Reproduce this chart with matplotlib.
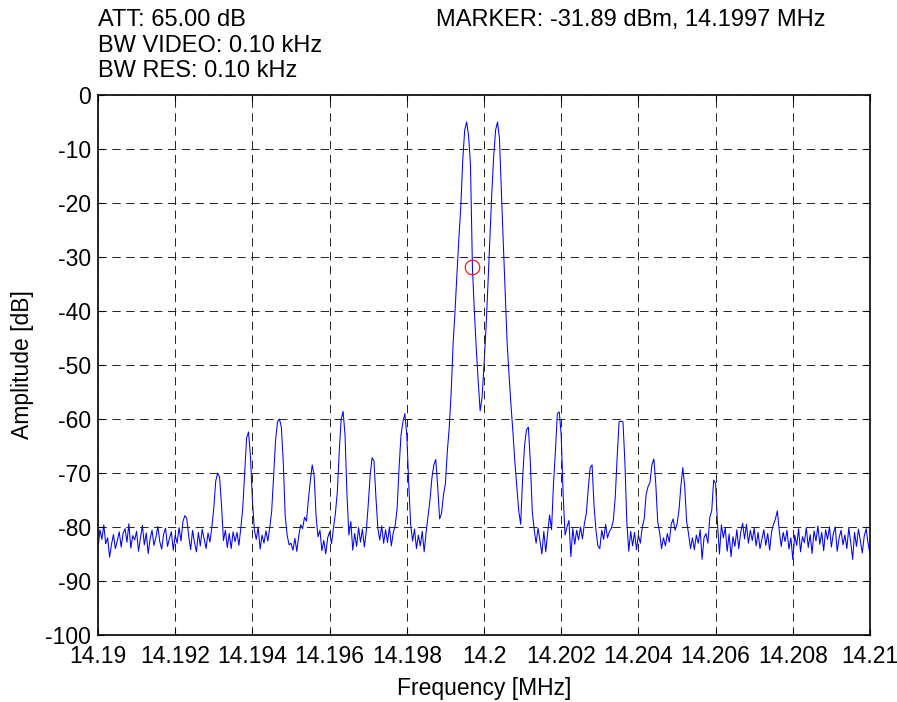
"""Spectrum analyzer sweep around 14.2 MHz with marker readout."""

import numpy as np
import matplotlib

matplotlib.use("Agg")
import matplotlib.pyplot as plt

plt.rcParams["font.family"] = ["Liberation Sans", "DejaVu Sans"]
plt.rcParams["lines.scale_dashes"] = False

# sweep settings
f_start = 14.19      # MHz
f_step = 0.00005     # MHz per sample

# measured amplitude, dB (401 samples, 20 per row = 1 kHz per row)
trace_db = [
    -84.0, -80.5, -82.3, -79.6, -83.1, -82.0, -85.6, -83.2, -81.4, -84.0,
    -82.5, -80.9, -83.7, -81.2, -80.3, -82.8, -79.4, -83.9, -81.6, -82.4,
    -80.8, -84.5, -82.0, -79.7, -83.3, -81.1, -84.9, -82.2, -80.6, -83.4,
    -81.9, -79.9, -82.7, -84.1, -81.3, -80.2, -83.6, -82.1, -80.9, -84.3,
    -81.5, -83.0, -80.1, -82.6, -79.0, -77.9, -78.4, -81.7, -84.2, -80.6,
    -82.9, -84.6, -81.0, -83.5, -80.4, -82.2, -84.0, -81.1, -82.8, -80.0,
    -76.5, -71.5, -70.0, -70.8, -76.0, -82.5, -80.6, -83.8, -81.2, -84.0,
    -80.9, -82.7, -81.0, -83.4, -80.2, -76.5, -70.0, -63.5, -62.4, -67.0,
    -75.0, -80.5, -82.3, -80.0, -84.1, -81.5, -83.0, -80.7, -82.6, -80.1,
    -77.0, -70.5, -64.0, -60.5, -60.0, -61.5, -68.0, -78.0, -81.5, -83.3,
    -83.0, -84.3, -82.1, -84.5, -81.7, -79.6, -80.3, -78.2, -78.9, -75.0,
    -71.5, -68.5, -70.5, -78.0, -81.8, -80.6, -84.4, -82.5, -85.0, -82.0,
    -80.9, -83.1, -80.2, -77.5, -73.5, -66.0, -60.0, -58.6, -63.0, -74.0,
    -81.5, -79.0, -84.3, -81.2, -83.6, -80.1, -82.8, -80.4, -83.7, -80.8,
    -76.0, -70.5, -67.2, -67.8, -74.5, -80.2, -82.4, -79.8, -83.0, -80.5,
    -82.9, -80.0, -83.5, -81.0, -79.7, -76.5, -69.0, -63.0, -60.5, -59.0,
    -63.0, -72.0, -79.5, -82.6, -80.4, -84.0, -81.5, -83.5, -80.8, -84.6,
    -81.0, -78.0, -75.0, -71.0, -68.5, -67.5, -72.5, -78.5, -77.5, -74.0,
    -72.0, -66.0, -61.5, -55.0, -46.0, -40.0, -33.0, -26.5, -20.5, -12.0,
    -6.5, -5.0, -7.5, -13.0, -31.89, -40.0, -47.0, -53.0, -58.5, -56.0,
    -50.0, -43.5, -35.5, -27.0, -18.5, -11.5, -6.5, -5.0, -8.0, -18.0,
    -27.5, -37.0, -46.0, -52.0, -57.5, -62.5, -68.0, -72.5, -77.0, -79.5,
    -71.0, -65.0, -62.0, -61.5, -68.0, -77.0, -80.5, -83.0, -80.2, -82.5,
    -85.0, -80.8, -84.6, -81.0, -77.8, -80.5, -72.0, -66.0, -59.0, -58.7,
    -63.0, -74.0, -81.5, -80.0, -78.8, -85.5, -80.3, -83.2, -80.6, -82.4,
    -80.0, -82.2, -79.4, -77.5, -73.0, -69.0, -68.5, -76.0, -80.5, -83.5,
    -84.0, -80.6, -82.3, -79.5, -82.0, -80.8, -80.2, -78.8, -74.5, -67.0,
    -60.5, -60.4, -60.5, -68.0, -79.0, -84.5, -80.8, -83.5, -81.0, -84.2,
    -81.5, -83.0, -80.0, -78.5, -74.0, -72.5, -71.8, -68.5, -67.4, -72.0,
    -79.0, -81.0, -84.0, -82.0, -83.5, -81.2, -82.8, -79.5, -78.5, -80.6,
    -79.5, -77.0, -72.5, -69.0, -72.5, -79.0, -81.3, -84.0, -82.0, -84.2,
    -81.5, -83.0, -80.5, -86.0, -82.0, -81.2, -83.0, -78.2, -77.0, -71.3,
    -72.0, -79.5, -85.0, -79.6, -82.0, -80.2, -84.5, -81.3, -85.5, -81.8,
    -83.6, -80.5, -84.0, -81.0, -79.3, -82.2, -79.5, -83.0, -80.6, -82.5,
    -80.2, -83.5, -81.0, -84.0, -82.2, -80.5, -83.4, -81.2, -84.3, -80.9,
    -79.5, -78.5, -77.0, -80.8, -83.6, -81.0, -82.7, -80.6, -84.1, -82.0,
    -86.0, -81.5, -83.4, -80.3, -84.6, -81.8, -82.9, -80.1, -83.8, -81.4,
    -84.9, -80.7, -82.6, -79.8, -83.2, -81.0, -84.4, -80.5, -82.3, -80.0,
    -83.7, -81.2, -80.0, -84.5, -82.0, -80.6, -83.3, -81.5, -84.0, -80.2,
    -82.8, -86.0, -81.0, -83.6, -80.4, -82.5, -84.8, -81.7, -80.3, -83.0,
    -85.0,
]

marker_mhz = 14.1997
marker_db = -31.89

att_db = 65.00
bw_video_khz = 0.10
bw_res_khz = 0.10

x_ticks = [14.190, 14.192, 14.194, 14.196, 14.198, 14.200,
           14.202, 14.204, 14.206, 14.208, 14.210]
x_tick_labels = ["14.19", "14.192", "14.194", "14.196", "14.198", "14.2",
                 "14.202", "14.204", "14.206", "14.208", "14.21"]
y_ticks = [0, -10, -20, -30, -40, -50, -60, -70, -80, -90, -100]

freq = f_start + f_step * np.arange(len(trace_db))

W, H = 897, 702
fig = plt.figure(figsize=(W / 100, H / 100), dpi=100)
ax = fig.add_axes([98 / W, 1 - 635 / H, 772 / W, 540 / H])

ax.plot(freq, trace_db, color="#0000ff", linewidth=0.75)
ax.plot(marker_mhz, marker_db, "o", mfc="none", mec="red", ms=10.5, mew=0.8)

ax.set_xlim(x_ticks[0], x_ticks[-1])
ax.set_ylim(-100, 0)
ax.set_xticks(x_ticks)
ax.set_xticklabels(x_tick_labels)
ax.set_yticks(y_ticks)
ax.set_yticklabels([str(v) for v in y_ticks])

fs = 16.5
ax.tick_params(direction="in", length=4, width=0.8, labelsize=fs,
               top=True, right=True)
ax.tick_params(axis="x", pad=7)
ax.tick_params(axis="y", pad=5)
for sp in ax.spines.values():
    sp.set_linewidth(1.2)
ax.grid(True, color="#222222", linewidth=0.7, linestyle=(0, (6, 4)))
ax.set_axisbelow(False)

ax.set_xlabel("Frequency [MHz]", fontsize=fs, labelpad=7)
ax.set_ylabel("Amplitude [dB]", fontsize=fs, labelpad=8)

hs = 17
fig.text(98 / W, 1 - 26 / H, f"ATT: {att_db:.2f} dB", fontsize=hs,
         va="baseline")
fig.text(98 / W, 1 - 51.5 / H, f"BW VIDEO: {bw_video_khz:.2f} kHz",
         fontsize=hs, va="baseline")
fig.text(98 / W, 1 - 77 / H, f"BW RES: {bw_res_khz:.2f} kHz", fontsize=hs,
         va="baseline")
fig.text(436 / W, 1 - 26 / H,
         f"MARKER: {marker_db:.2f} dBm, {marker_mhz:.4f} MHz",
         fontsize=hs, va="baseline")

fig.savefig("out.png", dpi=100)
